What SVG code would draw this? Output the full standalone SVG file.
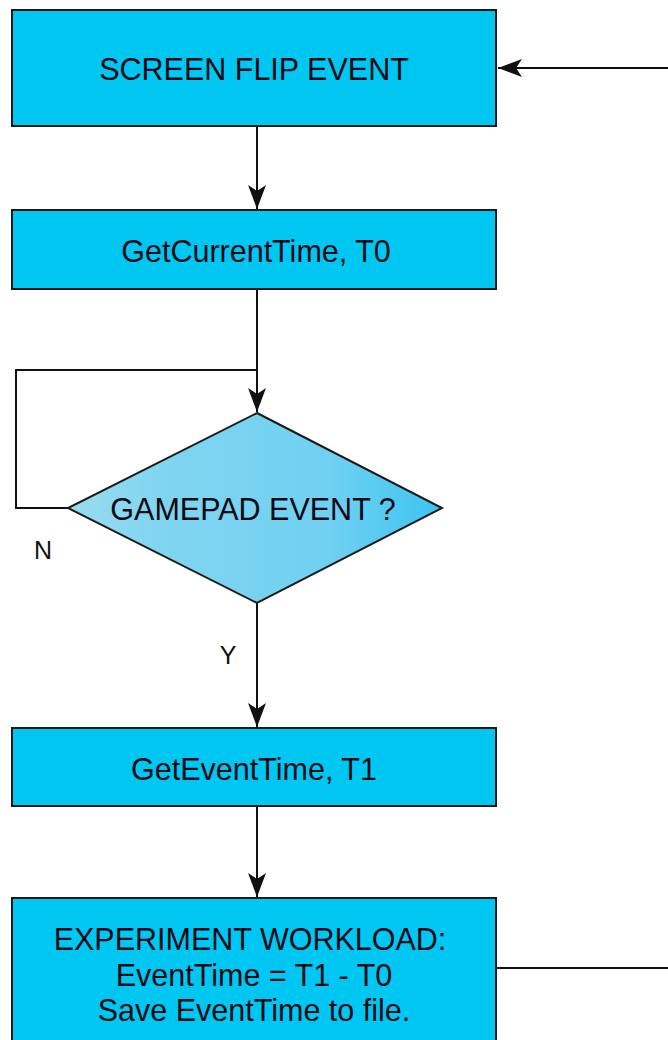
<svg xmlns="http://www.w3.org/2000/svg" width="668" height="1040" viewBox="0 0 668 1040">
<style>
.box{fill:#00c6f2;stroke:#1a1a1a;stroke-width:2}
.dia{stroke:#1a1a1a;stroke-width:2}
.t{font-family:"Liberation Sans",Arial,sans-serif;font-size:30.5px;fill:#0a0a14;text-anchor:middle}
.lbl{font-family:"Liberation Sans",Arial,sans-serif;font-size:25px;fill:#111;text-anchor:middle}
.c{fill:none;stroke:#111;stroke-width:2}
</style>
<defs>
<marker id="ah" viewBox="0 0 24 18" refX="24" refY="9" markerWidth="24" markerHeight="18" markerUnits="userSpaceOnUse" orient="auto">
<path d="M0,0 L24,9 L0,18 L6,9 Z" fill="#111"/>
</marker>
<linearGradient id="dg" x1="0" y1="0" x2="1" y2="0">
<stop offset="0" stop-color="#98dcef"/>
<stop offset="0.25" stop-color="#80d5f0"/>
<stop offset="0.7" stop-color="#70d0f1"/>
<stop offset="1" stop-color="#3cc4f0"/>
</linearGradient>
</defs>
<rect width="668" height="1040" fill="#ffffff"/>
<g id="connectors">
<line class="c" x1="257" y1="126" x2="257" y2="209" marker-end="url(#ah)"/>
<line class="c" x1="257" y1="289" x2="257" y2="412" marker-end="url(#ah)"/>
<polyline class="c" points="68,508 16,508 16,370 257,370"/>
<line class="c" x1="257" y1="603" x2="257" y2="727" marker-end="url(#ah)"/>
<line class="c" x1="257" y1="806" x2="257" y2="897" marker-end="url(#ah)"/>
<line class="c" x1="496" y1="968" x2="668" y2="968"/>
<line class="c" x1="668" y1="68" x2="498" y2="68" marker-end="url(#ah)"/>
<text class="lbl" x="43" y="559">N</text>
<text class="lbl" x="228" y="664">Y</text>
</g>
<g id="screen-flip">
<rect class="box" x="12" y="10" width="484" height="116"/>
<text class="t" x="254" y="80">SCREEN FLIP EVENT</text>
</g>
<g id="get-current-time">
<rect class="box" x="12" y="210" width="484" height="79"/>
<text class="t" x="256" y="262">GetCurrentTime, T0</text>
</g>
<g id="gamepad-event">
<polygon class="dia" fill="url(#dg)" points="257,413 442,508 257,603 68,508"/>
<text class="t" x="253" y="520">GAMEPAD EVENT ?</text>
</g>
<g id="get-event-time">
<rect class="box" x="12" y="728" width="484" height="78"/>
<text class="t" x="254" y="780">GetEventTime, T1</text>
</g>
<g id="experiment-workload">
<rect class="box" x="12" y="898" width="484" height="160"/>
<text class="t" x="250" y="950">EXPERIMENT WORKLOAD:</text>
<text class="t" x="254" y="986">EventTime = T1 - T0</text>
<text class="t" x="254" y="1021">Save EventTime to file.</text>
</g>
</svg>
